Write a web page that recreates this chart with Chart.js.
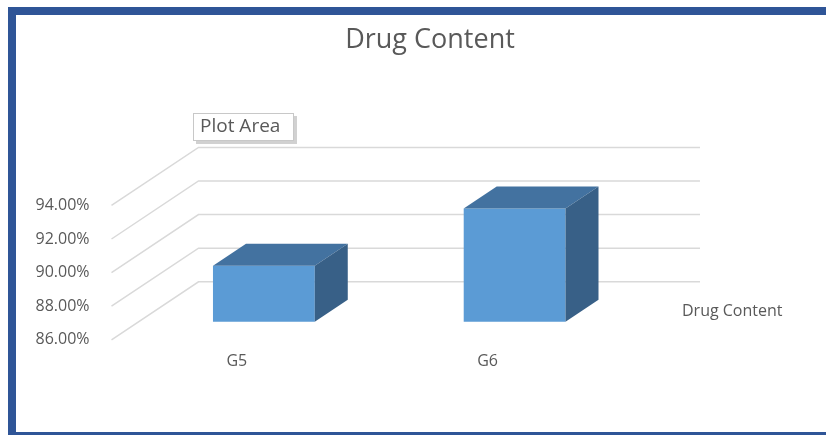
<!DOCTYPE html>
<html>
<head>
<meta charset="utf-8">
<script src="https://cdn.jsdelivr.net/npm/chart.js@4.4.1/dist/chart.umd.min.js"></script>
<style>
  html, body { margin: 0; padding: 0; background: #fff; overflow: hidden; }
  #marco {
    position: absolute; left: 8px; top: 7px; width: 840px; height: 433px;
    box-sizing: border-box; border: 8px solid #2f5597;
  }
  #graficoDrug { position: absolute; left: 0; top: 0; }
</style>
</head>
<body>
<div id="marco"></div>
<canvas id="graficoDrug" width="826" height="435"></canvas>
<script>
// ==========================================
// DATOS
// ==========================================
var grupos = ["G5", "G6"];
var drugContent = [89.34, 92.75];
var ejeMin = 86;
var ejeMax = 94;
var ejePaso = 2;
var etiquetaSerie = "Drug Content";
var etiquetaPlotArea = "Plot Area";

// ==========================================
// EFECTO 3D (offsets en px respecto al plano frontal de las barras)
// ==========================================
var PARED = { x: 60, y: -40 };      // pared del fondo
var SUELO = { x: -27, y: 18 };      // borde frontal del suelo
var FONDO_BARRA = { x: 33, y: -22 };

var efecto3d = {
  id: "efecto3d",
  beforeDatasetsDraw: function (chart) {
    var ctx = chart.ctx;
    var area = chart.chartArea;
    var escala = chart.scales.y;
    ctx.save();
    ctx.strokeStyle = "#d9d9d9";
    ctx.lineWidth = 1.5;
    escala.ticks.forEach(function (t) {
      var py = escala.getPixelForValue(t.value);
      ctx.beginPath();
      ctx.moveTo(area.left + SUELO.x, py + SUELO.y);
      ctx.lineTo(area.left + PARED.x, py + PARED.y);
      ctx.lineTo(area.right + PARED.x, py + PARED.y);
      ctx.stroke();
    });
    ctx.restore();
  },
  afterDatasetsDraw: function (chart) {
    var ctx = chart.ctx;
    var area = chart.chartArea;
    var meta = chart.getDatasetMeta(0);
    ctx.save();
    meta.data.forEach(function (barra) {
      var p = barra.getProps(["x", "y", "base", "width"], true);
      var izq = p.x - p.width / 2;
      var der = p.x + p.width / 2;
      var arriba = p.y;
      var abajo = Math.min(p.base, area.bottom);

      // cara superior
      ctx.fillStyle = "#4372a0";
      ctx.beginPath();
      ctx.moveTo(izq, arriba);
      ctx.lineTo(izq + FONDO_BARRA.x, arriba + FONDO_BARRA.y);
      ctx.lineTo(der + FONDO_BARRA.x, arriba + FONDO_BARRA.y);
      ctx.lineTo(der, arriba);
      ctx.closePath();
      ctx.fill();

      // cara lateral
      ctx.fillStyle = "#386087";
      ctx.beginPath();
      ctx.moveTo(der, arriba);
      ctx.lineTo(der + FONDO_BARRA.x, arriba + FONDO_BARRA.y);
      ctx.lineTo(der + FONDO_BARRA.x, abajo + FONDO_BARRA.y);
      ctx.lineTo(der, abajo);
      ctx.closePath();
      ctx.fill();
    });
    ctx.restore();
  },
  afterDraw: function (chart) {
    // recuadro "Plot Area" (tooltip de Excel)
    var ctx = chart.ctx;
    ctx.save();
    ctx.fillStyle = "rgba(0,0,0,0.18)";
    ctx.fillRect(196, 116, 101, 28);
    ctx.fillStyle = "#ffffff";
    ctx.fillRect(193, 113, 101, 28);
    ctx.strokeStyle = "#c8c8c8";
    ctx.lineWidth = 1;
    ctx.strokeRect(193.5, 113.5, 100, 27);
    ctx.fillStyle = "#595959";
    ctx.font = "19px 'Open Sans'";
    ctx.textBaseline = "middle";
    ctx.fillText(etiquetaPlotArea, 200, 127);
    ctx.restore();
  }
};

// ==========================================
// GRÁFICO
// ==========================================
var ctxDrug = document.getElementById("graficoDrug");
new Chart(ctxDrug, {
  type: "bar",
  data: {
    labels: grupos,
    datasets: [{
      label: etiquetaSerie,
      data: drugContent,
      backgroundColor: "#5b9bd5",
      borderWidth: 0,
      categoryPercentage: 1,
      barPercentage: 0.406
    }]
  },
  options: {
    responsive: false,
    animation: false,
    devicePixelRatio: 1,
    layout: {
      padding: { top: 0, left: 67.5, right: 33.5, bottom: 34 }
    },
    scales: {
      x: {
        grid: { display: false, drawTicks: false },
        border: { display: false },
        ticks: {
          color: "#595959",
          font: { family: "Open Sans", size: 16 },
          padding: 30,
          labelOffset: -27
        }
      },
      y: {
        min: ejeMin,
        max: ejeMax,
        grid: { display: false, drawTicks: false },
        border: { display: false },
        afterFit: function (escala) { escala.width = 71; },
        ticks: {
          stepSize: ejePaso,
          color: "#595959",
          font: { family: "Open Sans", size: 16 },
          mirror: true,
          crossAlign: "center",
          padding: -103,
          labelOffset: 18,
          callback: function (v) { return v.toFixed(2) + "%"; }
        }
      }
    },
    plugins: {
      title: {
        display: true,
        text: "Drug Content",
        color: "#595959",
        font: { family: "Open Sans", size: 27, weight: "normal" },
        padding: { top: 24, bottom: 131 }
      },
      legend: {
        position: "right",
        align: "end",
        fullSize: false,
        labels: {
          color: "#595959",
          font: { family: "Open Sans", size: 16 },
          boxWidth: 32,
          padding: 2,
          generateLabels: function (chart) {
            var items = Chart.defaults.plugins.legend.labels.generateLabels(chart);
            items.forEach(function (it) {
              it.fillStyle = "rgba(0,0,0,0)";
              it.strokeStyle = "rgba(0,0,0,0)";
              it.lineWidth = 0;
            });
            return items;
          }
        }
      },
      tooltip: { enabled: false }
    }
  },
  plugins: [efecto3d]
});
</script>
</body>
</html>
